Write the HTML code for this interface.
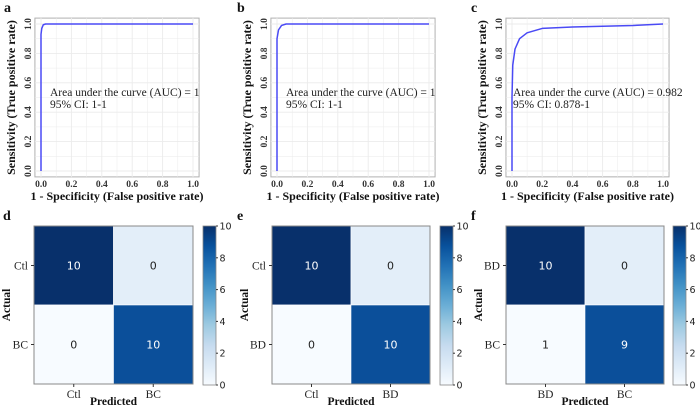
<!DOCTYPE html>
<html><head><meta charset="utf-8"><style>
html,body{margin:0;padding:0;background:#fff;width:700px;height:410px;overflow:hidden}
svg{display:block}
.ser{font-family:"Liberation Serif",serif}
.sans{font-family:"DejaVu Sans","Liberation Sans",sans-serif}
</style></head><body>
<svg id="fig" width="700" height="410" xmlns="http://www.w3.org/2000/svg">
<defs><linearGradient id="blues" x1="0" y1="1" x2="0" y2="0">
<stop offset="0" stop-color="#f7fbff"/><stop offset="0.125" stop-color="#deebf7"/><stop offset="0.25" stop-color="#c6dbef"/><stop offset="0.375" stop-color="#9ecae1"/><stop offset="0.5" stop-color="#6baed6"/><stop offset="0.625" stop-color="#4292c6"/><stop offset="0.75" stop-color="#2171b5"/><stop offset="0.875" stop-color="#08519c"/><stop offset="1" stop-color="#08306b"/></linearGradient></defs>
</svg>
<script>
const rocFprA=[0,0,0.005,0.015,0.03,1];
const rocTprA=[0,0.93,0.97,0.995,1,1];
const rocFprB=[0,0,0.01,0.03,0.06,1];
const rocTprB=[0,0.9,0.96,0.99,1,1];
const rocFprC=[0,0,0.005,0.02,0.05,0.1,0.2,0.4,0.6,0.8,1];
const rocTprC=[0,0.5,0.72,0.83,0.9,0.94,0.97,0.98,0.985,0.99,1];
const aucLabels=["Area under the curve (AUC) = 1","Area under the curve (AUC) = 1","Area under the curve (AUC) = 0.982"];
const ciLabels=["95% CI: 1-1","95% CI: 1-1","95% CI: 0.878-1"];
const rocTicks=[0,0.2,0.4,0.6,0.8,1.0];
const cmD=[[10,0],[0,10]], cmE=[[10,0],[0,10]], cmF=[[10,0],[1,9]];
const cmLabelsD=["Ctl","BC"], cmLabelsE=["Ctl","BD"], cmLabelsF=["BD","BC"];
const cbTicks=[0,2,4,6,8,10];
const cellColorsDark="#08306b", cellColorsMid="#0b4f9a";

const NS="http://www.w3.org/2000/svg";
const svg=document.getElementById('fig');
function el(tag,attrs,parent,txt){const e=document.createElementNS(NS,tag);for(const k in attrs)e.setAttribute(k,attrs[k]);if(txt!==undefined)e.textContent=txt;(parent||svg).appendChild(e);return e;}

function roc(x0,x1,fpr,tpr,idx,letter,lx){
  const y1=24,y0=171;
  const X=v=>x0+(x1-x0)*v, Y=v=>y0-(y0-y1)*v;
  const g=el('g',{});
  
  
  const pad=(x1-x0)*0.04;
  const bg=el('rect',{x:X(0)-pad,y:Y(1)-pad*0.97,width:(x1-x0)+2*pad,height:(y0-y1)+pad*1.94,fill:'#fff',stroke:'#b0b0b0','stroke-width':1},g);
  
  
  for(let i=0;i<=10;i++){const v=i/10;
    el('line',{x1:X(v),x2:X(v),y1:Y(1)-pad,y2:Y(0)+pad,stroke:'#ebebeb','stroke-width':i%2?0.5:0.9},g);
    el('line',{y1:Y(v),y2:Y(v),x1:X(0)-pad,x2:X(1)+pad,stroke:'#ebebeb','stroke-width':i%2?0.5:0.9},g);}
  rocTicks.forEach(t=>{
    const tx=el('text',{x:X(t),y:Y(0)+pad+10,'text-anchor':'middle','font-size':9.5,'font-weight':'bold',class:'ser',fill:'#333'},g,t.toFixed(1));
    
    
    const ty=el('text',{x:0,y:0,'text-anchor':'middle','font-size':9.5,'font-weight':'bold',class:'ser',fill:'#333',transform:`translate(${X(0)-pad-4},${Y(t)}) rotate(-90)`},g,t.toFixed(1));
    
    
  });
  let d='';fpr.forEach((f,i)=>{d+=(i?'L':'M')+X(f)+','+Y(tpr[i]);});
  const p=el('path',{d:d,fill:'none',stroke:'#4a4af5','stroke-width':1.5,'stroke-linejoin':'round'},g);
  
  
  const a=el('text',{x:X(0)+ (idx==2?1:9),y:96,'font-size':11.5,class:'ser',fill:'#222'},g,aucLabels[idx]);
  
  
  const c=el('text',{x:X(0)+(idx==2?1:9),y:108,'font-size':11.5,class:'ser',fill:'#222'},g,ciLabels[idx]);
  
  
  const xt=el('text',{x:(x0+x1)/2,y:200,'text-anchor':'middle','font-size':12,'font-weight':'bold',class:'ser',fill:'#111'},g,'1 - Specificity (False positive rate)');
  
  
  const yt=el('text',{x:0,y:0,'text-anchor':'middle','font-size':12,'font-weight':'bold',class:'ser',fill:'#111',transform:`translate(${x0-26},${(y0+y1)/2}) rotate(-90)`},g,'Sensitivity (True positive rate)');
  
  
  const L=el('text',{x:lx,y:12,'font-size':14,'font-weight':'bold',class:'ser',fill:'#111'},g,letter);
  
  
}
roc(41,193,rocFprA,rocTprA,0,'a',4);
roc(277,429,rocFprB,rocTprB,1,'b',237);
roc(512,663,rocFprC,rocTprC,2,'c',471);

function cm(bx0,bx1,cbx,mat,labels,letter,lx){
  const by0=226,by1=384;
  const cw=(bx1-bx0)/2,ch=(by1-by0)/2;
  const g=el('g',{});
  
  
  const fills=[[cellColorsDark,'#e3eef9'],['#f7fbff',cellColorsMid]];
  for(let r=0;r<2;r++)for(let c=0;c<2;c++){
    const v=mat[r][c];
    const rc=el('rect',{x:bx0+c*cw,y:by0+r*ch,width:cw,height:ch,fill:fills[r][c],stroke:'#fff','stroke-width':0.6},g);
    
    
    const t=el('text',{x:bx0+c*cw+cw/2,y:by0+r*ch+ch/2+4,'text-anchor':'middle','font-size':11,class:'sans',fill:r==c?'#fff':'#222'},g,String(v));
    
    
  }
  el('rect',{x:bx0,y:by0,width:bx1-bx0,height:by1-by0,fill:'none',stroke:'#888','stroke-width':1},g);
  labels.forEach((lb,i)=>{
    const ty=el('text',{x:bx0-6,y:by0+i*ch+ch/2+4,'text-anchor':'end','font-size':11.5,class:'ser',fill:'#222'},g,lb);
    
    
    el('line',{x1:bx0-3,x2:bx0,y1:by0+i*ch+ch/2,y2:by0+i*ch+ch/2,stroke:'#333'},g);
    const tx=el('text',{x:bx0+i*cw+cw/2,y:by1+14,'text-anchor':'middle','font-size':11.5,class:'ser',fill:'#222'},g,lb);
    
    
    el('line',{x1:bx0+i*cw+cw/2,x2:bx0+i*cw+cw/2,y1:by1,y2:by1+3,stroke:'#333'},g);
  });
  const xt=el('text',{x:(bx0+bx1)/2,y:405,'text-anchor':'middle','font-size':11.5,'font-weight':'bold',class:'ser',fill:'#111'},g,'Predicted');
  
  
  const yt=el('text',{x:0,y:0,'text-anchor':'middle','font-size':11.5,'font-weight':'bold',class:'ser',fill:'#111',transform:`translate(${bx0-24},${(by0+by1)/2}) rotate(-90)`},g,'Actual');
  
  
  const cb=el('rect',{x:cbx,y:by0,width:13,height:by1-by0+1,fill:'url(#blues)',stroke:'#888','stroke-width':0.8},g);
  
  
  cbTicks.forEach(t=>{
    const y=by1+1-(by1+1-by0)*t/10;
    el('line',{x1:cbx+13,x2:cbx+15,y1:y,y2:y,stroke:'#333'},g);
    const tt=el('text',{x:cbx+16.5,y:y+3.5,'font-size':9.5,class:'sans',fill:'#222'},g,String(t));
    
    
  });
  const L=el('text',{x:lx,y:220,'font-size':14,'font-weight':'bold',class:'ser',fill:'#111'},g,letter);
  
  
}
cm(34,193,203,cmD,cmLabelsD,'d',3);
cm(272,430,440,cmE,cmLabelsE,'e',237);
cm(506,664,673,cmF,cmLabelsF,'f',471);
</script>
</body></html>
